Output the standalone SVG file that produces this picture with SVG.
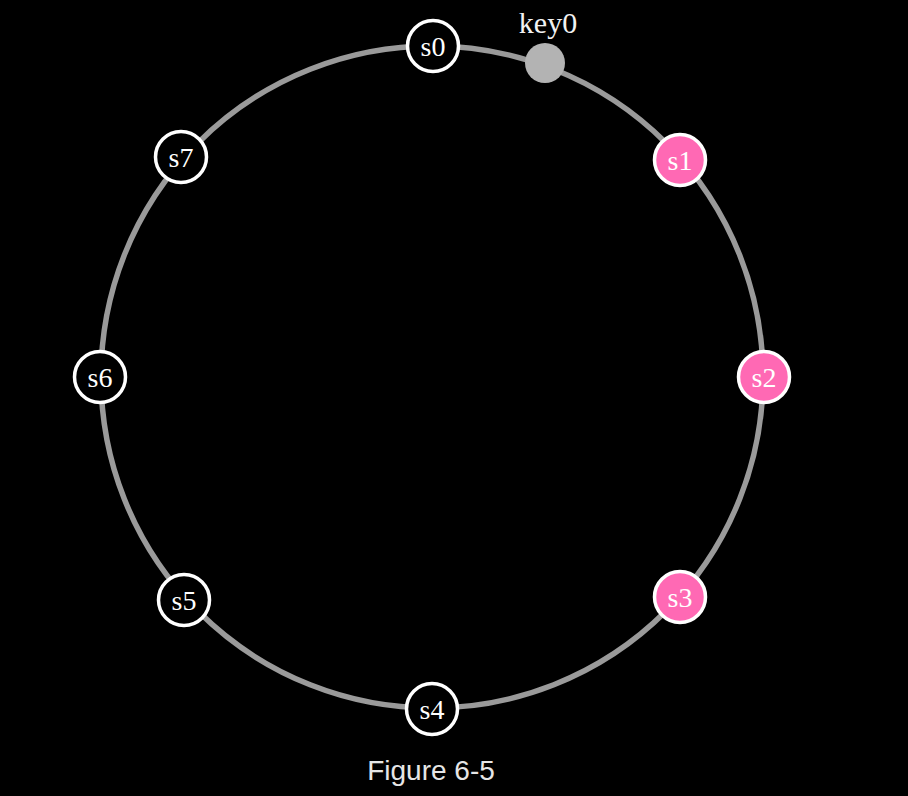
<svg xmlns="http://www.w3.org/2000/svg" width="908" height="796" viewBox="0 0 908 796">
<style>
.ring{fill:none;stroke:#9a9a9a;stroke-width:5.5}
.node circle{fill:#000;stroke:#fff;stroke-width:3.5}
.node.hot circle{fill:#ff69b4}
.node text{font-family:"Liberation Serif","DejaVu Serif",serif;font-size:28px;fill:#fff;text-anchor:middle}
.lbl{font-family:"Liberation Serif","DejaVu Serif",serif;font-size:30px;fill:#f2f2f2;text-anchor:middle}
.cap{font-family:"Liberation Sans",Arial,sans-serif;font-size:28px;fill:#e6e6e6;text-anchor:middle}
</style>
<rect width="908" height="796" fill="#000"/>
<g id="connectors">
<circle class="ring" cx="432" cy="377" r="331"/>
</g>
<g id="key0">
<circle cx="545" cy="63" r="20" fill="#b3b3b3"/>
<text class="lbl" x="548" y="33">key0</text>
</g>
<g id="s0" class="node"><circle cx="433" cy="46" r="25.5"/><text x="433" y="56">s0</text></g>
<g id="s1" class="node hot"><circle cx="680" cy="160" r="25.5"/><text x="680" y="170">s1</text></g>
<g id="s2" class="node hot"><circle cx="764" cy="377" r="25.5"/><text x="764" y="387">s2</text></g>
<g id="s3" class="node hot"><circle cx="680" cy="597" r="25.5"/><text x="680" y="607">s3</text></g>
<g id="s4" class="node"><circle cx="432" cy="709" r="25.5"/><text x="432" y="719">s4</text></g>
<g id="s5" class="node"><circle cx="184" cy="600" r="25.5"/><text x="184" y="610">s5</text></g>
<g id="s6" class="node"><circle cx="100" cy="377" r="25.5"/><text x="100" y="387">s6</text></g>
<g id="s7" class="node"><circle cx="181" cy="157" r="25.5"/><text x="181" y="167">s7</text></g>
<text class="cap" x="431" y="780">Figure 6-5</text>
</svg>
